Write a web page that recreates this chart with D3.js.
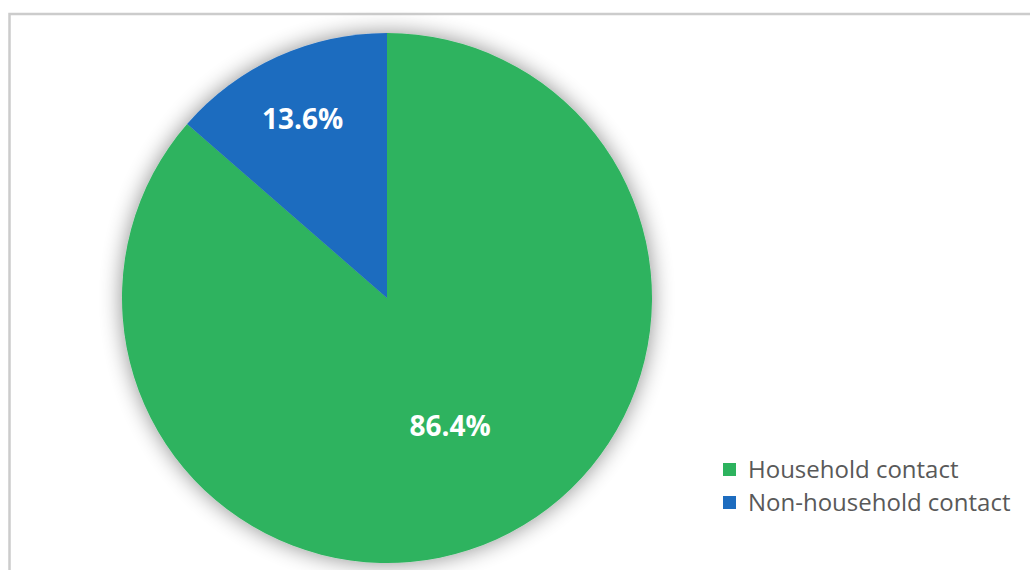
<!DOCTYPE html>
<html>
<head>
<meta charset="utf-8">
<script src="https://d3js.org/d3.v7.min.js"></script>
<style>
    body { margin: 0; background: #fff; }
    svg { display: block; }
</style>
</head>
<body>
<div id="wrapper"></div>
<script>

// chart data
const categories = ["Household contact", "Non-household contact"]
const shares = [86.4, 13.6]
const labels = ["86.4%", "13.6%"]
const colors = ["#2db35e", "#1d6cbf"]

function drawChart() {

    const dimensions = {
        width: 1030,
        height: 570,
        cx: 387,
        cy: 298,
        radius: 265,
    }

    const wrapper = d3.select("#wrapper")
        .append("svg")
            .attr("width", dimensions.width)
            .attr("height", dimensions.height)

    // soft glow under the pie
    const defs = wrapper.append("defs")
    const filter = defs.append("filter")
        .attr("id", "glow")
        .attr("x", "-20%").attr("y", "-20%")
        .attr("width", "140%").attr("height", "140%")
    filter.append("feGaussianBlur")
        .attr("in", "SourceAlpha")
        .attr("stdDeviation", 11)
    filter.append("feComponentTransfer")
        .append("feFuncA").attr("type", "linear").attr("slope", 0.45)
    const merge = filter.append("feMerge")
    merge.append("feMergeNode")
    merge.append("feMergeNode").attr("in", "SourceGraphic")

    // frame
    wrapper.append("rect")
        .attr("x", 9.5)
        .attr("y", 14)
        .attr("width", dimensions.width + 20)
        .attr("height", dimensions.height + 20)
        .attr("fill", "none")
        .attr("stroke", "#cccccc")
        .attr("stroke-width", 2.5)

    const pie = d3.pie().sort(null).value(d => d)
    const arcs = pie(shares)

    const arc = d3.arc()
        .innerRadius(0)
        .outerRadius(dimensions.radius)

    const bounds = wrapper.append("g")
        .attr("transform", `translate(${dimensions.cx},${dimensions.cy})`)

    const pieG = bounds.append("g")
        .attr("filter", "url(#glow)")

    pieG.selectAll("path")
        .data(arcs)
        .join("path")
        .attr("d", arc)
        .attr("fill", (d, i) => colors[i])

    // labels: larger slice sits nearer the middle
    const labelArc = d => d3.arc()
        .innerRadius(0)
        .outerRadius(dimensions.radius * (d.index === 0 ? 1.06 : 1.5))
        .centroid(d)

    bounds.selectAll(".label")
        .data(arcs)
        .join("text")
        .attr("class", "label")
        .attr("x", d => labelArc(d)[0] + (d.index === 0 ? 5 : -2))
        .attr("y", d => labelArc(d)[1] + (d.index === 0 ? 0 : 2))
        .attr("text-anchor", "middle")
        .attr("dy", "0.36em")
        .attr("fill", "#fff")
        .style("font-family", "'Open Sans', sans-serif")
        .style("font-weight", 700)
        .style("font-size", "28px")
        .text((d, i) => labels[i])

    // legend
    const legendScale = d3.scaleBand()
        .domain(categories)
        .range([453, 519])

    const legend = wrapper.append("g")
        .selectAll("g")
        .data(categories)
        .join("g")
        .attr("transform", d => `translate(723,${legendScale(d)})`)

    legend.append("rect")
        .attr("y", legendScale.bandwidth() / 2 - 6.5)
        .attr("width", 13)
        .attr("height", 13)
        .attr("fill", (d, i) => colors[i])

    legend.append("text")
        .attr("x", 25)
        .attr("y", legendScale.bandwidth() / 2)
        .attr("dy", "0.35em")
        .attr("fill", "#595959")
        .style("font-family", "'Open Sans', sans-serif")
        .style("font-size", "24px")
        .text(d => d)
}

drawChart()
</script>
</body>
</html>
